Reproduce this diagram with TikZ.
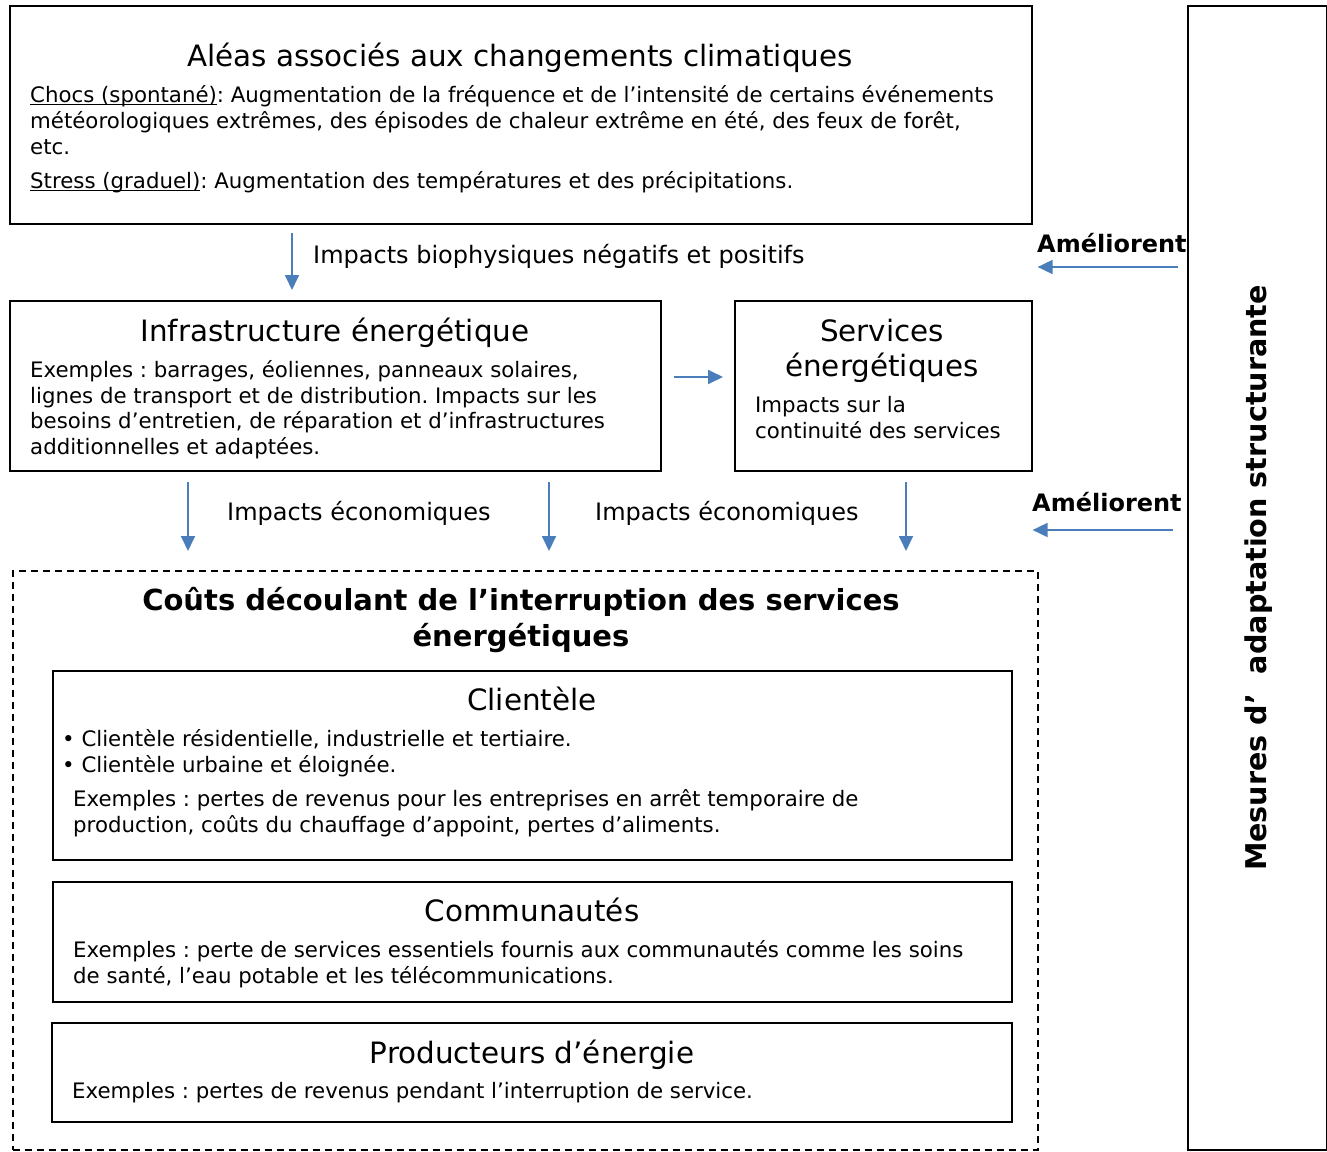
\documentclass[tikz,border=0pt]{standalone}
\usepackage{fontspec}
\setmainfont{DejaVu Sans}
\usetikzlibrary{arrows.meta}
\definecolor{arrblue}{HTML}{4A7EBB}
\newcommand\myul[1]{\setbox0\hbox{#1}\rlap{\raisebox{-3.2pt}{\rule{\wd0}{1.5pt}}}\box0}
\tikzset{
  box/.style={draw=black, line width=1.6pt, inner sep=0pt, anchor=north west},
  dbox/.style={draw=black, line width=1.6pt, dash pattern=on 7pt off 5pt, inner sep=0pt, anchor=north west},
  arr/.style={draw=arrblue, line width=1.8pt, -{Triangle[length=15pt, width=14pt]}},
  ttl/.style={inner sep=0pt, anchor=base, font=\fontsize{29.4}{32}\selectfont},
  bttl/.style={inner sep=0pt, anchor=base, font=\fontsize{29}{32}\selectfont\bfseries},
  txt/.style={inner sep=0pt, anchor=base west, font=\fontsize{21.3}{26}\selectfont},
  lbl/.style={inner sep=0pt, anchor=base west, font=\fontsize{24}{26}\selectfont},
  aml/.style={inner sep=0pt, anchor=base west, font=\fontsize{24}{26}\selectfont\bfseries},
}
\begin{document}
\frenchspacing
\begin{tikzpicture}[x=1pt, y=-1pt]
\useasboundingbox (0,0) rectangle (1327,1151);
% boxes
\node[box, minimum width=1022pt, minimum height=218pt] (top) at (9,5) {};
\node[box, minimum width=651pt, minimum height=170pt] (infra) at (9,300) {};
\node[box, minimum width=297pt, minimum height=170pt] (serv) at (734,300) {};
\node[dbox, minimum width=1025pt, minimum height=579pt] (couts) at (12,570) {};
\node[box, minimum width=959pt, minimum height=189pt] (client) at (52,670) {};
\node[box, minimum width=959pt, minimum height=120pt] (comm) at (52,881) {};
\node[box, minimum width=960pt, minimum height=99pt] (prod) at (51,1022) {};
\node[box, minimum width=139pt, minimum height=1144pt] (mes) at (1187,5) {};
% top box text
\node[ttl] (topT) at (520,66) {Aléas associés aux changements climatiques};
\node[txt] (topL1) at (30,102) {\myul{Chocs (spontané)}: Augmentation de la fréquence et de l’intensité de certains événements};
\node[txt] (topL2) at (30,128) {météorologiques extrêmes, des épisodes de chaleur extrême en été, des feux de forêt,};
\node[txt] (topL3) at (30,154) {etc.};
\node[txt] (topL4) at (30,188) {\myul{Stress (graduel)}: Augmentation des températures et des précipitations.};
% infra
\node[ttl] (infT) at (335,341) {Infrastructure énergétique};
\node[txt] (infL1) at (30,377) {Exemples : barrages, éoliennes, panneaux solaires,};
\node[txt] (infL2) at (30,403) {lignes de transport et de distribution. Impacts sur les};
\node[txt] (infL3) at (30,428) {besoins d’entretien, de réparation et d’infrastructures};
\node[txt] (infL4) at (30,454) {additionnelles et adaptées.};
% services
\node[ttl] (srvT1) at (882,341) {Services};
\node[ttl] (srvT2) at (882,376) {énergétiques};
\node[txt] (srvL1) at (755,412) {Impacts sur la};
\node[txt] (srvL2) at (755,438) {continuité des services};
% labels
\node[lbl] (lblBio) at (313,263) {Impacts biophysiques négatifs et positifs};
\node[lbl] (lblEco1) at (227,520) {Impacts économiques};
\node[lbl] (lblEco2) at (595,520) {Impacts économiques};
\node[aml] (am1) at (1037,252) {Améliorent};
\node[aml] (am2) at (1032,511) {Améliorent};
% couts
\node[bttl] (cT1) at (521,610) {Coûts découlant de l’interruption des services};
\node[bttl] (cT2) at (521,646) {énergétiques};
% clientele
\node[ttl] (clT) at (532,710) {Clientèle};
\node[txt] (clB1) at (62,746) {\textbullet\ Clientèle résidentielle, industrielle et tertiaire.};
\node[txt] (clB2) at (62,772) {\textbullet\ Clientèle urbaine et éloignée.};
\node[txt] (clL1) at (73,806) {Exemples : pertes de revenus pour les entreprises en arrêt temporaire de};
\node[txt] (clL2) at (73,832) {production, coûts du chauffage d’appoint, pertes d’aliments.};
% communautes
\node[ttl] (coT) at (532,921) {Communautés};
\node[txt] (coL1) at (73,957) {Exemples : perte de services essentiels fournis aux communautés comme les soins};
\node[txt] (coL2) at (73,983) {de santé, l’eau potable et les télécommunications.};
% producteurs
\node[ttl] (prT) at (532,1063) {Producteurs d’énergie};
\node[txt] (prL1) at (72,1098) {Exemples : pertes de revenus pendant l’interruption de service.};
% vertical
\node[inner sep=0pt, rotate=90, font=\fontsize{28.6}{32}\selectfont\bfseries] (mesT) at (1259,578) {Mesures d’\ \ adaptation structurante};
% arrows
\draw[arr] ([yshift=-8pt]top.south -| 292,0) -- ([yshift=10pt]infra.north -| 292,0);
\draw[arr] ([xshift=12pt]infra.east |- 0,377) -- ([xshift=-11pt]serv.west |- 0,377);
\draw[arr] ([yshift=-10pt]infra.south -| 188,0) -- ([yshift=19pt]couts.north -| 188,0);
\draw[arr] ([yshift=-10pt]infra.south -| 549,0) -- ([yshift=19pt]couts.north -| 549,0);
\draw[arr] ([yshift=-10pt]serv.south -| 906,0) -- ([yshift=19pt]couts.north -| 906,0);
\draw[arr] ([xshift=-9pt]mes.west |- 0,267) -- ([xshift=5pt]top.east |- 0,267);
\draw[arr] ([xshift=-14pt]mes.west |- 0,530) -- ([xshift=-6pt]couts.east |- 0,530);
\end{tikzpicture}
\end{document}
